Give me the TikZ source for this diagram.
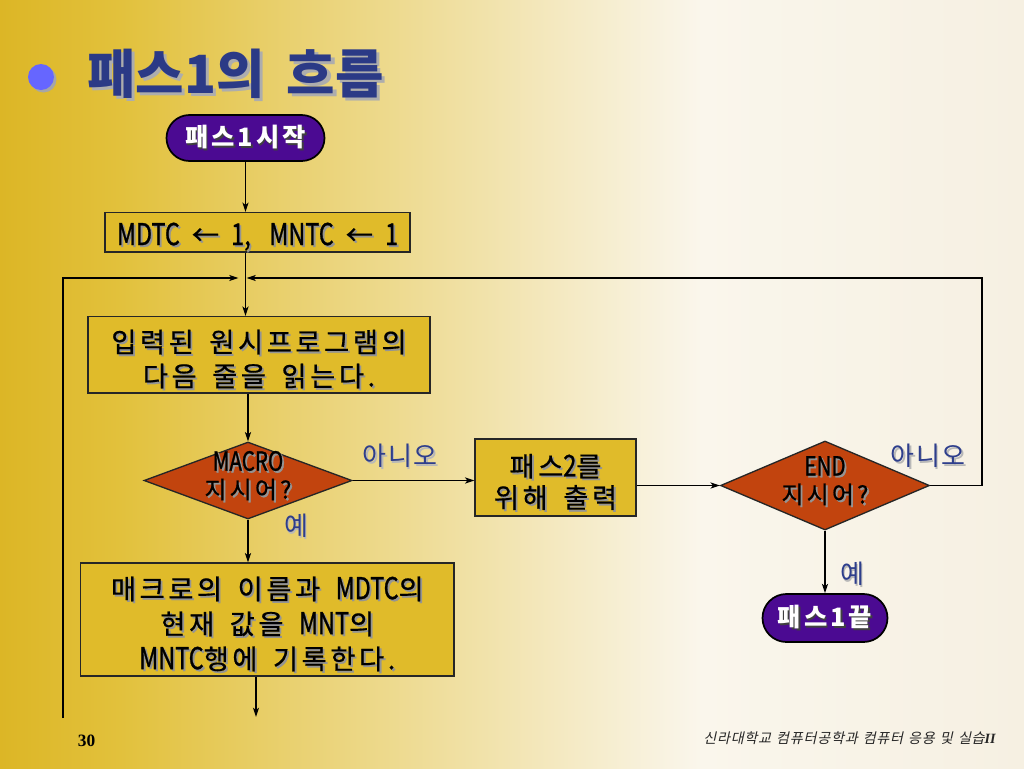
\documentclass[tikz,border=0pt]{standalone}
\usepackage{fontspec}
\usetikzlibrary{shapes.geometric,shapes.misc,arrows.meta,calc}
\setmainfont{Liberation Serif}
\newfontfamily\krf{Noto Sans CJK KR}
\newfontfamily\boxf[LetterSpace=13,WordSpace=1.6,FakeBold=0.6]{Noto Sans CJK KR}
\newfontfamily\latf[FakeStretch=0.78,Scale=1.1,WordSpace=2,FakeBold=0.9]{Noto Sans CJK KR}
\newfontfamily\lblf[LetterSpace=6]{Noto Sans CJK KR}
\newfontfamily\termf[LetterSpace=12]{Noto Sans CJK KR}
\newfontfamily\footf[FakeSlant=0.22,LetterSpace=5,WordSpace=1.3]{Noto Sans CJK KR}
\definecolor{bgA}{HTML}{DCB626}
\definecolor{bgB}{HTML}{E2C13C}
\definecolor{bgC}{HTML}{FAF6EC}
\definecolor{bgD}{HTML}{F6F0E2}
\definecolor{gold}{HTML}{E0BB2A}
\definecolor{dred}{HTML}{C2440E}
\definecolor{purp}{HTML}{4B0A92}
\definecolor{lblue}{HTML}{2E3E8C}
\definecolor{tblue}{HTML}{2B3A86}
\definecolor{bul}{HTML}{6666FF}
\newcommand\p[1]{#1*0.75pt}
\newcommand\LT[1]{{\latf #1}}
\newcommand\Sh[2][black!42]{\rlap{\kern1.4pt\raisebox{-1.4pt}{\textcolor{#1}{#2}}}#2}
\newcommand\Bx[1]{\raisebox{-4pt}[\height][\depth]{\Sh{#1}}}
\newcommand\ShT[1]{\rlap{\kern2.4pt\raisebox{-2.4pt}{\textcolor{black!32}{#1}}}#1}
\newcommand\ShW[1]{\rlap{\kern1.3pt\raisebox{-1.3pt}{\textcolor{black!75}{#1}}}#1}
\newcommand\dtext[2]{\makebox[0pt]{\smash{\raisebox{-3pt}{\begin{tabular}{@{}c@{}}\Sh{#1}\\\Sh{#2}\end{tabular}}}}}
\begin{document}
\begin{tikzpicture}[x=0.75pt,y=-0.75pt,
  box/.style={draw=black!85, line width=1pt, fill=gold, inner sep=0pt, align=center, text=black,
    font=\boxf\fontsize{20.5pt}{25.5pt}\selectfont},
  dia/.style={diamond, draw=black!85, line width=1pt, fill=dred, inner sep=0pt, text=black,
    font=\boxf\fontsize{18pt}{20pt}\selectfont},
  term/.style={rounded rectangle, draw=black, line width=1.3pt, fill=purp, text=white, inner sep=0pt,
    font=\termf\bfseries\fontsize{19pt}{22pt}\selectfont},
  lbl/.style={text=lblue, inner sep=0pt, font=\lblf\fontsize{19.5pt}{22pt}\selectfont},
  flow/.style={line width=0.9pt, -{Stealth[length=7pt,width=4.6pt,inset=1.8pt]}}]
% background
\useasboundingbox (0,0) rectangle (1024,768);
\shade[left color=bgA, right color=bgB] (0,0) rectangle (121,768);
\shade[left color=bgB, right color=bgC] (120,0) rectangle (701,768);
\shade[left color=bgC, right color=bgD] (700,0) rectangle (1024,768);
% title
\fill[black!35] (43.5,79.5) circle (13);
\fill[bul] (41,77) circle (13);
\node[anchor=west, text=tblue, inner sep=0pt, font=\krf\bfseries\fontsize{39.5pt}{42pt}\selectfont] (title) at (87,75) {\ShT{패스1의}\hspace{0.42em}\ShT{흐름}};
% nodes
\node[term, minimum width=\p{158}, minimum height=\p{46}] (start) at (245.5,138) {\ShW{패스1시작}};
\node[box, minimum width=\p{305}, minimum height=\p{39.5}] (init) at (257.5,232.3) {\Bx{\LT{MDTC}\hspace{9pt}←\hspace{9pt}\LT{1,}\hspace{14pt}\LT{MNTC}\hspace{9pt}←\hspace{9pt}\LT{1}}};
\node[box, minimum width=\p{342}, minimum height=\p{76.5}] (read) at (259,354.7) {\Bx{입력된 원시프로그램의}\\\Bx{다음 줄을 읽는다.}};
\node[dia, minimum width=\p{208}, minimum height=\p{77}] (macro) at (248,480.5) {\dtext{\LT{MACRO}}{지시어?}};
\node[lbl] (no1) at (400,456.5) {\Sh[black!28]{아니오}};
\node[lbl] (yes1) at (296,527) {\Sh[black!28]{예}};
\node[box, minimum width=\p{161}, minimum height=\p{77}, font=\boxf\fontsize{20.5pt}{23.5pt}\selectfont] (pass2) at (555.5,477.5) {\Bx{패스\LT{2}를}\\\Bx{위해 출력}};
\node[dia, minimum width=\p{209}, minimum height=\p{89}] (endq) at (825,485.5) {\dtext{\LT{END}}{지시어?}};
\node[lbl] (no2) at (928,457) {\Sh[black!28]{아니오}};
\node[lbl] (yes2) at (852,575) {\Sh[black!28]{예}};
\node[term, minimum width=\p{125}, minimum height=\p{48}] (fin) at (825,618) {\ShW{패스1끝}};
\node[box, minimum width=\p{373.5}, minimum height=\p{113}, font=\boxf\fontsize{20.5pt}{26.25pt}\selectfont] (mbox) at (267.3,619.5)
  {\Bx{매크로의 이름과 \LT{MDTC}의}\\\Bx{현재 값을 \LT{MNT}의}\\\Bx{\LT{MNTC}행에 기록한다.}};
\node[inner sep=0pt, font=\bfseries\fontsize{13pt}{15pt}\selectfont] (pg) at (86.5,741) {30};
\node[anchor=east, inner sep=0pt, text=black!85, font=\footf\fontsize{10.6pt}{12pt}\selectfont] (foot) at (996,738.5)
  {신라대학교 컴퓨터공학과 컴퓨터 응용 및 실습{\rmfamily\bfseries\itshape II}};
% connectors
\coordinate (jn) at (245.5,278);
\coordinate (ll) at (63,718);
\coordinate (rr) at (982,278);
\coordinate (bot) at (256,717);
\draw[flow] (start.south) -- (start.south |- init.north);
\draw[flow] (init.south -| jn) -- (jn |- read.north);
\draw[flow] (ll) |- ($(jn)+(-7,0)$);
\draw[flow] (endq.east) -| (rr) -- ($(jn)+(1,0)$);
\draw[flow] (macro.north |- read.south) -- (macro.north);
\draw[flow] (macro.east) -- (macro.east -| pass2.west);
\draw[flow] (pass2.east |- endq.west) -- (endq.west);
\draw[flow] (endq.south) -- (endq.south |- fin.north);
\draw[flow] (macro.south) -- (macro.south |- mbox.north);
\draw[flow] (bot |- mbox.south) -- (bot);
\end{tikzpicture}
\end{document}
